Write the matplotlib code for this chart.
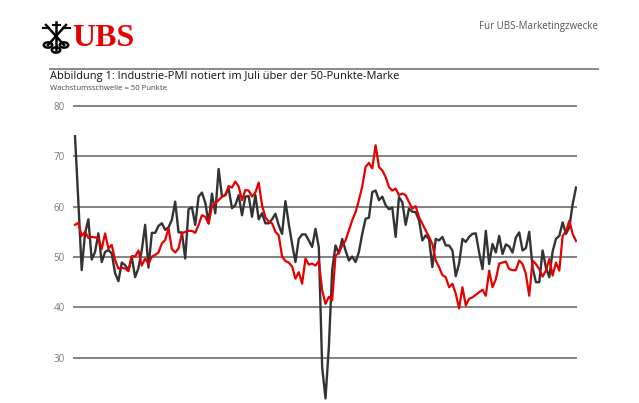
import matplotlib
matplotlib.use("Agg")
import matplotlib.pyplot as plt
from matplotlib.patches import Circle
from matplotlib.lines import Line2D

# PMI series (monthly, oldest first)
pmi_black = [
    74.0, 61.0, 47.4, 54.7, 57.5, 49.5, 51.0, 54.7, 49.0, 51.0,
    51.4, 50.7, 46.8, 45.2, 48.9, 48.4, 47.4, 50.0, 46.0, 47.8,
    51.4, 56.4, 47.9, 54.8, 54.8, 56.2, 56.7, 55.4, 55.9, 57.4,
    61.0, 54.9, 54.9, 49.7, 59.5, 59.9, 56.4, 62.0, 62.8, 60.8,
    56.8, 62.6, 58.7, 67.5, 62.0, 62.3, 63.6, 59.7, 60.3, 62.3,
    58.3, 62.0, 62.1, 58.0, 62.3, 57.5, 58.7, 56.7, 56.7, 57.5,
    58.6, 56.3, 54.6, 61.1, 56.6, 52.6, 49.0, 53.6, 54.5, 54.5,
    53.3, 52.0, 55.6, 51.9, 28.1, 21.9, 32.1, 47.4, 52.3, 50.7,
    53.6, 51.3, 49.3, 50.1, 49.0, 51.0, 54.6, 57.6, 57.8, 62.9,
    63.2, 61.3, 62.0, 60.3, 59.5, 59.8, 54.0, 61.9, 60.9, 56.4,
    59.6, 59.0, 58.9, 57.3, 53.3, 54.3, 53.6, 48.0, 53.6, 53.3,
    54.0, 52.3, 52.3, 51.3, 46.2, 48.7, 53.6, 53.0, 54.0, 54.6,
    54.7, 50.9, 47.6, 55.2, 48.6, 52.6, 50.9, 54.2, 50.6, 52.5,
    52.1, 50.9, 53.9, 54.9, 51.3, 51.8, 55.0, 47.9, 45.0, 45.0,
    51.3, 47.9, 46.0, 51.1, 53.6, 54.2, 56.9, 54.6, 55.9, 60.5,
    63.8,
]
pmi_red = [
    56.4, 56.8, 54.2, 55.0, 53.8, 54.0, 53.9, 53.8, 51.6, 54.7,
    51.7, 52.4, 49.4, 47.7, 47.9, 47.7, 47.2, 50.2, 50.1, 51.3,
    48.3, 49.7, 48.6, 50.1, 50.4, 50.9, 52.7, 53.4, 55.7, 51.6,
    50.9, 51.7, 54.7, 55.0, 55.2, 55.2, 54.8, 56.4, 58.3, 58.0,
    56.6, 60.1, 60.7, 61.3, 62.0, 62.3, 64.1, 63.8, 65.0, 64.0,
    61.3, 63.3, 63.2, 62.0, 62.8, 64.8, 60.3, 57.9, 57.0, 56.7,
    55.0, 54.3, 50.1, 49.2, 48.9, 48.1, 45.7, 47.0, 44.7, 49.7,
    48.5, 48.7, 48.3, 49.2, 43.4, 40.7, 42.1, 41.4, 50.3, 50.8,
    52.3, 53.3, 55.3, 57.3, 58.9, 61.3, 64.0, 67.9, 68.7, 67.6,
    72.2, 67.9, 67.2, 65.9, 63.9, 63.2, 63.6, 62.3, 62.6, 62.3,
    60.9, 59.6, 60.1, 57.9, 56.6, 55.3, 54.0, 52.6, 49.3, 48.0,
    46.4, 46.0, 44.0, 44.7, 42.7, 39.8, 44.0, 40.4, 41.7, 42.0,
    42.5, 43.0, 43.5, 42.3, 47.3, 44.0, 45.6, 48.7, 48.9, 49.1,
    47.6, 47.4, 47.4, 49.3, 48.6, 46.6, 42.3, 49.3, 48.6, 47.6,
    46.1, 47.3, 49.6, 46.3, 48.9, 47.3, 54.2, 55.1, 57.2, 54.6,
    53.2,
]
y_ticks = [30, 40, 50, 60, 70, 80]

title = "Abbildung 1: Industrie-PMI notiert im Juli über der 50-Punkte-Marke"
subtitle = "Wachstumsschwelle = 50 Punkte"
W, H = 639, 403

plt.rcParams['font.family'] = ['Open Sans', 'DejaVu Sans']
fig = plt.figure(figsize=(W / 100, H / 100), dpi=100)


def fx(px):
    return px / W


def fy(py):
    return 1 - py / H


ax = fig.add_axes([fx(73), fy(401.5), fx(577) - fx(73), fy(103.5) - fy(401.5)])
x = list(range(len(pmi_black)))
ax.plot(x, pmi_black, color="#333333", lw=1.7, zorder=3)
ax.plot(x, pmi_red, color="#e60000", lw=1.6, zorder=4)
ax.set_xlim(-0.6, len(pmi_black) - 0.7)
ax.set_ylim(21.3, 80.5)
ax.set_yticks(y_ticks)
ax.set_xticks([])
ax.grid(axis="y", color="#6e6e6e", lw=1.2)
ax.set_axisbelow(True)
for s in ax.spines.values():
    s.set_visible(False)
ax.tick_params(axis="y", length=0, pad=6, labelsize=7, labelcolor="#7a7a7a")

# header
fig.text(fx(598), fy(26), "Für UBS-Marketingzwecke", ha="right", va="center",
         fontsize=7, color="#555555")
fig.text(fx(72), fy(38), "UBS", ha="left", va="center", fontsize=23,
         fontweight="bold", color="#e60000", family="Liberation Serif")
fig.add_artist(Line2D([fx(50), fx(598)], [fy(69), fy(69)], color="#8a8a8a", lw=1.4))
fig.text(fx(50), fy(77), title, ha="left", va="center", fontsize=7.9, color="#111111")
fig.text(fx(50), fy(89), subtitle, ha="left", va="center", fontsize=5.6, color="#444444")

# rough sketch of the three keys in the logo
for cx, cy, tx, ty in [(48, 45, 66, 25), (64, 45, 46, 25), (56, 50, 56, 22)]:
    fig.add_artist(Line2D([fx(cx), fx(tx)], [fy(cy), fy(ty)], color="black", lw=1.8))
    fig.add_artist(Circle((fx(cx), fy(cy)), 4.2 / W, transform=fig.transFigure,
                          fill=False, ec="black", lw=1.8))
    fig.add_artist(Line2D([fx(tx - 3.5), fx(tx + 3.5)], [fy(ty + 3), fy(ty + 3)],
                          color="black", lw=1.5))

fig.savefig("out.png", dpi=100)
